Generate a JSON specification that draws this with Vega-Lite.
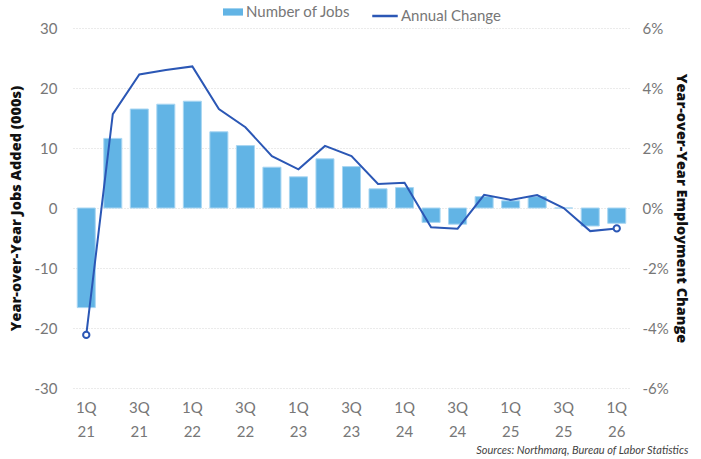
{
  "$schema": "https://vega.github.io/schema/vega-lite/v6.json",
  "width": 557,
  "height": 360,
  "autosize": {"type": "none"},
  "padding": {"left": 73, "top": 28, "right": 71, "bottom": 71},
  "background": "white",
  "config": {
    "view": {"stroke": null},
    "font": "Lato",
    "axis": {"labelFont": "Lato", "labelFontSize": 15, "labelColor": "#777777", "titleFont": "Open Sans", "titleFontWeight": 800, "titleFontSize": 14.5, "titleColor": "#111111"},
    "legend": {"labelFont": "Lato", "labelFontSize": 15, "labelColor": "#777777", "title": null}
  },
  "title": {
    "text": "Sources: Northmarq, Bureau of Labor Statistics",
    "orient": "bottom",
    "anchor": "end",
    "frame": "bounds",
    "fontSize": 11,
    "fontStyle": "italic",
    "fontWeight": "normal",
    "font": "Lato",
    "color": "#444444",
    "offset": 6
  },
  "data": {
    "values": [
      {"q": "1Q 21", "jobs": -16.6, "change": -4.23},
      {"q": "2Q 21", "jobs": 11.6, "change": 3.13},
      {"q": "3Q 21", "jobs": 16.5, "change": 4.45},
      {"q": "4Q 21", "jobs": 17.3, "change": 4.6},
      {"q": "1Q 22", "jobs": 17.8, "change": 4.72},
      {"q": "2Q 22", "jobs": 12.7, "change": 3.3},
      {"q": "3Q 22", "jobs": 10.4, "change": 2.69},
      {"q": "4Q 22", "jobs": 6.8, "change": 1.73},
      {"q": "1Q 23", "jobs": 5.2, "change": 1.29},
      {"q": "2Q 23", "jobs": 8.2, "change": 2.07},
      {"q": "3Q 23", "jobs": 6.9, "change": 1.73},
      {"q": "4Q 23", "jobs": 3.2, "change": 0.8},
      {"q": "1Q 24", "jobs": 3.4, "change": 0.84},
      {"q": "2Q 24", "jobs": -2.4, "change": -0.64},
      {"q": "3Q 24", "jobs": -2.7, "change": -0.69},
      {"q": "4Q 24", "jobs": 1.9, "change": 0.44},
      {"q": "1Q 25", "jobs": 1.2, "change": 0.27},
      {"q": "2Q 25", "jobs": 1.9, "change": 0.43},
      {"q": "3Q 25", "jobs": 0, "change": 0.0},
      {"q": "4Q 25", "jobs": -3.0, "change": -0.77},
      {"q": "1Q 26", "jobs": -2.55, "change": -0.68}
    ]
  },
  "encoding": {
    "x": {
      "field": "q",
      "type": "ordinal",
      "sort": null,
      "scale": {"paddingInner": 0.32, "paddingOuter": 0.16},
      "axis": {
        "title": null,
        "domain": false,
        "ticks": false,
        "labelAngle": 0,
        "labelPadding": 12,
        "labelLineHeight": 24,
        "labelBaseline": "top",
        "labelExpr": "test(/^[13]Q/, datum.value) ? split(datum.value, ' ') : ''"
      }
    }
  },
  "layer": [
    {
      "layer": [
        {
          "mark": {"type": "bar", "stroke": "#A8D6F2", "strokeWidth": 1},
          "encoding": {
            "y": {
              "field": "jobs",
              "type": "quantitative",
              "scale": {"domain": [-30, 30]},
              "axis": {
                "title": "Year-over-Year Jobs Added (000s)",
                "values": [-30, -20, -10, 0, 10, 20, 30],
                "labelExpr": "datum.value + ''",
                "domain": false,
                "ticks": false,
                "labelPadding": 16,
                "titlePadding": 11,
                "gridColor": "#d6d6d6",
                "gridDash": [1, 2],
                "gridWidth": 1
              }
            },
            "fill": {
              "datum": "Number of Jobs",
              "type": "nominal",
              "scale": {"domain": ["Number of Jobs"], "range": ["#62B4E5"]},
              "legend": {
                "orient": "none",
                "legendX": 150,
                "legendY": -26,
                "symbolSize": 400,
                "symbolStrokeWidth": 0,
                "labelOffset": 3,
                "symbolType": "M-1,-0.36L1,-0.36L1,0.36L-1,0.36Z"
              }
            }
          }
        },
        {
          "mark": {"type": "rule", "color": "#a8a8b0", "strokeWidth": 1.5},
          "encoding": {"y": {"datum": 0, "type": "quantitative"}}
        }
      ]
    },
    {
      "layer": [
        {
          "mark": {"type": "line", "strokeWidth": 2},
          "encoding": {
            "y": {
              "field": "change",
              "type": "quantitative",
              "scale": {"domain": [-6, 6]},
              "axis": {
                "orient": "right",
                "title": "Year-over-Year Employment Change",
                "titleAngle": 90,
                "values": [-6, -4, -2, 0, 2, 4, 6],
                "labelExpr": "datum.value + '%'",
                "domain": false,
                "ticks": false,
                "grid": false,
                "labelPadding": 12,
                "titlePadding": 5
              }
            },
            "stroke": {
              "datum": "Annual Change",
              "type": "nominal",
              "scale": {"domain": ["Annual Change"], "range": ["#2B57B5"]},
              "legend": {
                "orient": "none",
                "legendX": 298,
                "legendY": -26,
                "symbolType": "stroke",
                "symbolSize": 650,
                "symbolStrokeWidth": 2.5,
                "labelOffset": 2
              }
            }
          }
        },
        {
          "transform": [{"filter": "datum.q === '1Q 21' || datum.q === '1Q 26'"}],
          "mark": {"type": "point", "shape": "circle", "filled": true, "fill": "white", "stroke": "#2B57B5", "strokeWidth": 2, "size": 40, "opacity": 1},
          "encoding": {"y": {"field": "change", "type": "quantitative"}}
        }
      ]
    }
  ],
  "resolve": {"scale": {"y": "independent", "fill": "independent", "stroke": "independent"}}
}
